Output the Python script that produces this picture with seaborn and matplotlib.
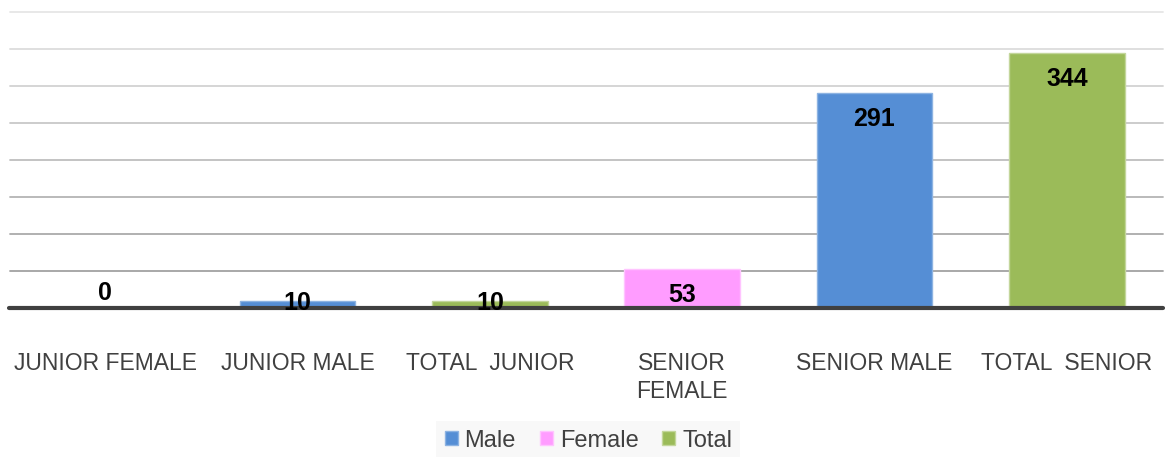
import pandas as pd
import numpy as np
import seaborn as sns
import matplotlib.pyplot as plt

# chart data
categories = ["JUNIOR FEMALE", "JUNIOR MALE", "TOTAL  JUNIOR",
              "SENIOR\nFEMALE", "SENIOR MALE", "TOTAL  SENIOR"]
values = [0, 10, 10, 53, 291, 344]
groups = ["Female", "Male", "Total", "Female", "Male", "Total"]
legend_order = ["Male", "Female", "Total"]

palette = {"Male": "#558ED5", "Female": "#FF9CFF", "Total": "#9BBB59"}
edges = {"Male": "#8DB3E2", "Female": "#FFC4FF", "Total": "#C3D69B"}

df = pd.DataFrame({"cat": categories, "val": values, "grp": groups})

sns.set_style("white")
plt.rcParams['font.family'] = ['Liberation Sans', 'DejaVu Sans']

fig = plt.figure(figsize=(11.65, 4.57), dpi=100)
ax = fig.add_axes([9 / 1165, 149 / 457, 1154 / 1165, 296 / 457])

sns.barplot(data=df, x="cat", y="val", hue="grp", hue_order=legend_order,
            palette=palette, dodge=False, width=0.6, saturation=1,
            ax=ax, legend=False)

#thin lighter outline on bars
for i, g in enumerate(groups):
    for bar in ax.patches:
        if abs(bar.get_x() + bar.get_width() / 2 - i) < 0.01 and bar.get_height() > 0:
            bar.set_edgecolor(edges[g])
            bar.set_linewidth(1.0)

ax.set_ylim(0, 400)
ax.set_xlim(-0.5, len(categories) - 0.5)

#gridlines get darker towards the bottom
ticks = np.arange(50, 401, 50)
shades = np.linspace(0.63, 0.90, len(ticks))
for t, s in zip(ticks, shades):
    ax.axhline(t, color=(s, s, s), lw=1.3, zorder=0, xmin=0.001, clip_on=False)
ax.axhline(0, color="#404040", lw=3, zorder=3, clip_on=False)

for s in ax.spines.values():
    s.set_visible(False)
ax.set_yticks([])
ax.set_xlabel("")
ax.set_ylabel("")
ax.tick_params(axis="x", length=0, pad=32, labelsize=16.5, labelcolor="#404040")
for lab in ax.get_xticklabels():
    lab.set_linespacing(1.25)

#data labels
for i, v in enumerate(values):
    if v == 0:
        off = 15
    elif v < 30:
        off = -2
    else:
        off = -26
    ax.annotate(str(v), (i, v), xytext=(0, off * 0.72), textcoords="offset points",
                ha="center", va="center", fontsize=18, fontweight="bold",
                color="black", zorder=5)

handles = [plt.Rectangle((0, 0), 1, 1, facecolor=palette[g], edgecolor=edges[g])
           for g in legend_order]
leg = fig.legend(handles, legend_order, loc="center", bbox_to_anchor=(0.505, 0.036),
                 ncol=3, frameon=True, fontsize=17, handlelength=0.55,
                 handleheight=0.55, handletextpad=0.3, columnspacing=1.0,
                 borderpad=0.35, fancybox=False)
leg.get_frame().set_facecolor("#F7F7F7")
leg.get_frame().set_edgecolor("none")
for t in leg.get_texts():
    t.set_color("#404040")

fig.savefig("out.png", dpi=100)
